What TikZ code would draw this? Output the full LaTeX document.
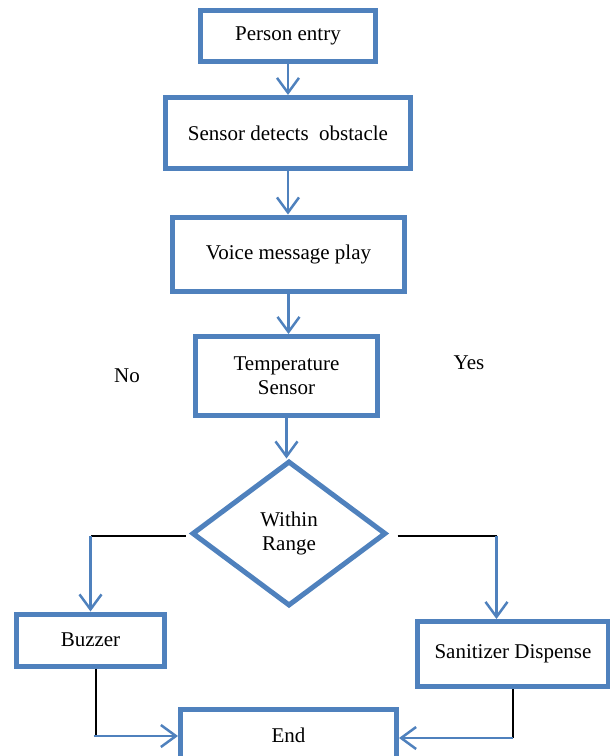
\documentclass[tikz,border=0pt]{standalone}
\usepackage{fontspec}
\setmainfont{Liberation Serif}
\usetikzlibrary{arrows.meta,positioning,shapes.geometric}
\definecolor{boxblue}{RGB}{79,129,189}

\begin{document}
\begin{tikzpicture}[
	x=1pt,
	y=-1pt,
	box/.style={
		rectangle,
		draw=boxblue,
		line width=5pt,
		text centered,
		align=center,
		inner sep=0pt
		},
	decision/.style={
		diamond,
		draw=boxblue,
		line width=5pt,
		align=center,
		inner sep=0pt,
		minimum width=194pt,
		minimum height=145pt
	},
	flow/.style={
		draw=boxblue,
		line width=2.5pt,
		-{Straight Barb[length=15pt,width=22pt]}
	},
	wire/.style={
		draw=black,
		line width=2pt
	},
	every node/.style={font=\fontsize{21}{24}\selectfont}
]
\useasboundingbox (0,0) rectangle (610,756);

% Steps
\node [box, minimum width=175pt, minimum height=51pt] (Entry) at (288,36) {Person entry};
\node [box, minimum width=245pt, minimum height=71pt] (Sensor) at (288,133) {Sensor detects\ \ obstacle};
\node [box, minimum width=232pt, minimum height=74pt] (Voice) at (288.5,254) {Voice message\ play};
\node [box, minimum width=182pt, minimum height=79pt] (Temperature) at (286.5,376) {Temperature\\Sensor};
\node [decision] (Range) at (289,533.5) {Within\\Range};
\node [box, minimum width=148pt, minimum height=52pt] (Buzzer) at (90.5,640) {Buzzer};
\node [box, minimum width=191pt, minimum height=65pt] (Sanitizer) at (513,654) {Sanitizer Dispense};
\node [box, minimum width=216pt, minimum height=51pt] (End) at (288.5,735) {End};

% Answers
\node (No) at (127,376) {No};
\node (Yes) at (469,363) {Yes};

% Turning points
\coordinate (No turn) at ([yshift=-2pt]Range.west -| Buzzer.north);
\path ([yshift=-2pt]Range.east) ++(108,0) coordinate (Yes turn);
\path ([xshift=5pt]Buzzer.south) coordinate (No drop);
\coordinate (No foot) at ([yshift=-1pt]No drop |- End.west);
\coordinate (Yes foot) at ([yshift=-3pt]Sanitizer.south |- End.east);

% Main line
\draw [flow] (Entry.south) -- (Entry.south |- Sensor.north);
\draw [flow] (Sensor.south) -- (Sensor.south |- Voice.north);
\draw [flow] (Voice.south) -- (Voice.south |- Temperature.north);
\draw [flow] (Temperature.south) -- (Temperature.south |- Range.north);

% Branches
\draw [wire, shorten <=4pt] ([yshift=-2pt]Range.west) -- (No turn);
\draw [flow] (No turn) -- (Buzzer.north);
\draw [wire, shorten <=9pt] ([yshift=-2pt]Range.east) -- (Yes turn);
\draw [flow] (Yes turn) -- (Yes turn |- Sanitizer.north);
\draw [wire] (No drop) -- (No foot);
\draw [flow] ([xshift=-2pt]No foot) -- (No foot -| End.west);
\draw [wire] (Sanitizer.south) -- (Yes foot);
\draw [flow] (Yes foot) -- (Yes foot -| End.east);

\end{tikzpicture}
\end{document}
